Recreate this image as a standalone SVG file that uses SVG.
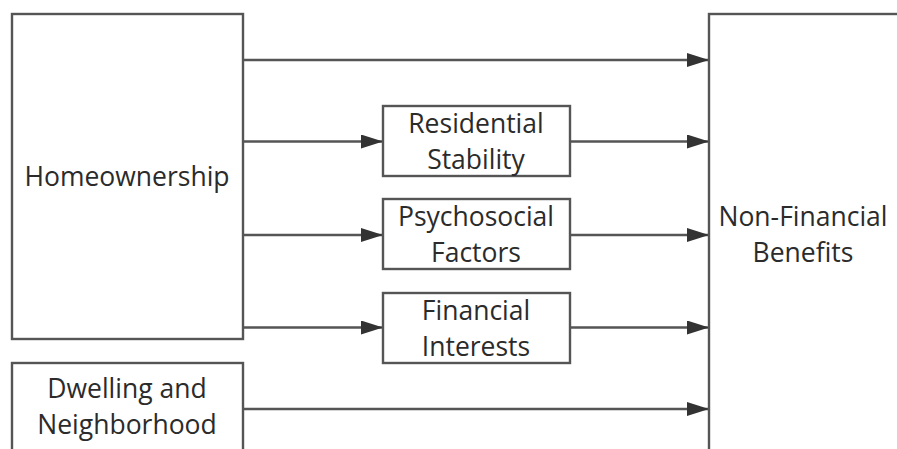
<svg xmlns="http://www.w3.org/2000/svg" width="897" height="449" viewBox="0 0 897 449">
<style>
.box{fill:#fff;stroke:#555;stroke-width:2.4}
.t{font-family:"Open Sans","Liberation Sans",sans-serif;font-size:26.5px;fill:#2b2b2b;text-anchor:middle}
.c{stroke:#555;stroke-width:2.4;fill:none;marker-end:url(#ah)}
</style>
<defs>
<marker id="ah" markerUnits="userSpaceOnUse" markerWidth="22" markerHeight="14" refX="22" refY="7" orient="auto">
<path d="M0,0 L22,7 L0,14 Z" fill="#333"/>
</marker>
</defs>
<rect width="897" height="449" fill="#fff"/>
<g id="connectors">
<line class="c" x1="243" y1="60" x2="709" y2="60"/>
<line class="c" x1="243" y1="141.5" x2="383" y2="141.5"/>
<line class="c" x1="570" y1="141.5" x2="709" y2="141.5"/>
<line class="c" x1="243" y1="235" x2="383" y2="235"/>
<line class="c" x1="570" y1="235" x2="709" y2="235"/>
<line class="c" x1="243" y1="327.5" x2="383" y2="327.5"/>
<line class="c" x1="570" y1="327.5" x2="709" y2="327.5"/>
<line class="c" x1="243" y1="409" x2="709" y2="409"/>
</g>
<g id="homeownership">
<rect class="box" x="12" y="14" width="231" height="325"/>
<text class="t" x="127" y="186">Homeownership</text>
</g>
<g id="dwelling">
<rect class="box" x="12" y="363" width="231" height="100"/>
<text class="t" x="127" y="398">Dwelling and</text>
<text class="t" x="127" y="434">Neighborhood</text>
</g>
<g id="residential">
<rect class="box" x="383" y="106" width="187" height="70"/>
<text class="t" x="476" y="133">Residential</text>
<text class="t" x="476" y="169">Stability</text>
</g>
<g id="psychosocial">
<rect class="box" x="383" y="199" width="187" height="70"/>
<text class="t" x="476" y="226">Psychosocial</text>
<text class="t" x="476" y="262">Factors</text>
</g>
<g id="financial">
<rect class="box" x="383" y="293" width="187" height="70"/>
<text class="t" x="476" y="320">Financial</text>
<text class="t" x="476" y="356">Interests</text>
</g>
<g id="benefits">
<rect class="box" x="709" y="14" width="220" height="460"/>
<text class="t" x="803" y="226">Non-Financial</text>
<text class="t" x="803" y="262">Benefits</text>
</g>
</svg>
